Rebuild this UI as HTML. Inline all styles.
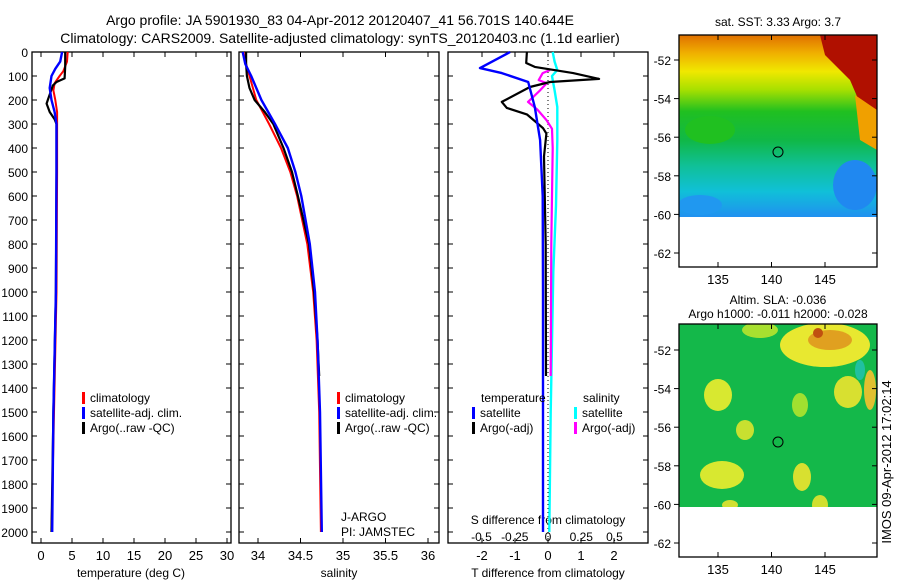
<!DOCTYPE html>
<html><head><meta charset="utf-8"><style>
html,body{margin:0;padding:0;background:#fff}
svg{display:block;font-family:"Liberation Sans",sans-serif}
</style></head><body>
<svg id="fig" width="900" height="580" viewBox="0 0 900 580">
<defs>
<linearGradient id="sstGrad" x1="0" y1="0" x2="0" y2="1">
<stop offset="0" stop-color="#e07000"/><stop offset="0.1" stop-color="#f0b000"/>
<stop offset="0.2" stop-color="#f0e800"/><stop offset="0.3" stop-color="#a8e000"/>
<stop offset="0.42" stop-color="#20c020"/><stop offset="0.58" stop-color="#10b848"/>
<stop offset="0.72" stop-color="#10c098"/><stop offset="0.86" stop-color="#10c0d8"/>
<stop offset="1" stop-color="#2090f0"/>
</linearGradient>
<clipPath id="clip1"><rect x="679" y="35" width="198" height="182"/></clipPath>
<clipPath id="clip2"><rect x="679" y="324" width="198" height="183"/></clipPath>
</defs>
<g font-size="14" text-anchor="middle">
<text x="340" y="25">Argo profile: JA 5901930_83 04-Apr-2012 20120407_41 56.701S 140.644E</text>
<text x="340" y="43">Climatology: CARS2009. Satellite-adjusted climatology: synTS_20120403.nc (1.1d earlier)</text>
</g>
<g id="panels"></g>
<g id="maps"></g>
<text transform="translate(891,462) rotate(-90)" font-size="13" text-anchor="middle">IMOS 09-Apr-2012 17:02:14</text>
</svg>
<script>
// ---- data ----
const depthTicks = [0,100,200,300,400,500,600,700,800,900,1000,1100,1200,1300,1400,1500,1600,1700,1800,1900,2000];
const tempTicks = [0,5,10,15,20,25,30];
const salTicks = [34,34.5,35,35.5,36];
const tdiffTicks = [-2,-1,0,1,2];
const sdiffTicks = [-0.5,-0.25,0,0.25,0.5];
const sdiffLabels = ["-0.5","-0.25","0","0.25","0.5"];
const latTicks = [-52,-54,-56,-58,-60,-62];
const lonTicks = [135,140,145];

const tClimDepth = [0,40,80,100,130,160,200,250,300,500,1000,1500,2000];
const tClimVal   = [4.3,4.2,3.6,3.0,2.2,2.0,2.3,2.6,2.6,2.6,2.5,2.1,1.7];
const tSatDepth = [0,40,70,100,150,200,250,300,500,1000,1500,2000];
const tSatVal   = [3.4,3.1,2.3,1.7,1.4,1.7,2.2,2.5,2.5,2.4,2.0,1.8];
const tArgoDepth = [0,60,110,125,140,170,200,215,250,280,300,500,1000,1500,2000];
const tArgoVal   = [3.9,3.9,3.8,2.5,1.9,1.5,1.1,0.9,1.4,2.2,2.5,2.5,2.4,2.0,1.7];

const sClimDepth = [0,50,100,150,200,300,400,500,600,800,1000,1200,1500,2000];
const sClimVal   = [33.85,33.86,33.9,33.94,33.98,34.13,34.27,34.38,34.46,34.58,34.65,34.69,34.72,34.74];
const sSatDepth = [0,50,100,150,200,300,400,500,600,800,1000,1200,1500,2000];
const sSatVal   = [33.82,33.85,33.92,33.98,34.04,34.2,34.35,34.44,34.51,34.61,34.67,34.7,34.73,34.75];
const sArgoDepth = [0,50,100,150,200,250,300,400,500,600,800,1000,1200,1350];
const sArgoVal   = [33.86,33.86,33.87,33.9,33.96,34.08,34.18,34.3,34.4,34.47,34.6,34.66,34.7,34.72];

const dTsatDepth = [0,67,88,125,229,367,600,1000,1500,2000];
const dTsatVal   = [-1.15,-2.06,-1.4,-0.6,-0.4,-0.24,-0.16,-0.15,-0.15,-0.15];
const dTargoDepth = [0,46,62,88,112,125,146,208,233,260,317,340,435,800,1350];
const dTargoVal   = [-0.64,-0.66,-0.4,0.76,1.55,0.06,-0.55,-1.4,-1.25,-0.64,-0.15,-0.05,-0.12,-0.07,-0.06];
const dSsatDepth = [0,40,75,100,160,229,367,640,917,1500,2000];
const dSsatVal   = [0.035,0.05,0.07,0.03,0.05,0.07,0.07,0.06,0.04,0.02,0.01];
const dSargoDepth = [75,88,117,130,160,208,240,285,320,400,800,1350];
const dSargoVal   = [0.015,-0.04,-0.07,-0.01,-0.06,-0.15,-0.08,-0.01,0.03,0.035,0.025,0.02];

// ---- scales ----
const NS='http://www.w3.org/2000/svg';
const TOP=52, BOT=543;
const yD = d => TOP + d*0.24;
const xT = t => 41 + t*6.2;
const xS = s => 258 + (s-34)*85;
const xDT = t => 548 + t*33;
const xDS = s => 548 + s*133;
const panels = document.getElementById('panels');
const maps = document.getElementById('maps');
function mk(tag, attrs, parent){const e=document.createElementNS(NS,tag);for(const k in attrs)e.setAttribute(k,attrs[k]);parent.appendChild(e);return e;}
function txt(x,y,s,anchor,size,parent){const t=mk('text',{x:x,y:y,'text-anchor':anchor,'font-size':size},parent);t.textContent=s;return t;}
function line(xs,ds,xf,color,w,name,parent){
  const pts = ds.map((d,i)=>xf(xs[i]).toFixed(1)+','+yD(d).toFixed(1)).join(' ');
  const p = mk('polyline',{points:pts,fill:'none',stroke:color,'stroke-width':w,'stroke-linejoin':'round'},parent);
  
  
}
function box(x0,x1,name){
  const g = mk('g',{},panels);
  
  
  mk('rect',{x:x0,y:TOP,width:x1-x0,height:BOT-TOP,fill:'none',stroke:'#000','stroke-width':1.3},g);
  depthTicks.forEach(d=>{mk('line',{x1:x0,x2:x0+5,y1:yD(d),y2:yD(d),stroke:'#000'},g);mk('line',{x1:x1,x2:x1-5,y1:yD(d),y2:yD(d),stroke:'#000'},g);});
  return g;
}
function xticks(g,ticks,xf,labels,ly){
  ticks.forEach((t,i)=>{const x=xf(t);mk('line',{x1:x,x2:x,y1:TOP,y2:TOP+5,stroke:'#000'},g);mk('line',{x1:x,x2:x,y1:BOT,y2:BOT-5,stroke:'#000'},g);
    if(labels) txt(x,ly,labels[i],'middle',13,g);});
}
function legend(g,x,y,items){
  items.forEach((it,i)=>{mk('rect',{x:x,y:y+i*15-10,width:3,height:12,fill:it[0]},g);txt(x+8,y+i*15,it[1],'start',12,g);});
}
// panel 1
const p1 = box(32,231,'temperature-panel');
depthTicks.forEach(d=>txt(28,yD(d)+5,String(d),'end',12,p1));
xticks(p1,tempTicks,xT,tempTicks.map(String),560);
txt(131,577,'temperature (deg C)','middle',12,p1);
line(tClimVal,tClimDepth,xT,'#f00',2,'temp-climatology-line',p1);
line(tArgoVal,tArgoDepth,xT,'#000',2.2,'temp-argo-line',p1);
line(tSatVal,tSatDepth,xT,'#00f',2.4,'temp-satellite-line',p1);
legend(p1,82,402,[['#f00','climatology'],['#00f','satellite-adj. clim.'],['#000','Argo(..raw -QC)']]);
// panel 2
const p2 = box(239,439,'salinity-panel');
xticks(p2,salTicks,xS,salTicks.map(String),560);
txt(339,577,'salinity','middle',12,p2);
line(sClimVal,sClimDepth,xS,'#f00',2,'sal-climatology-line',p2);
line(sArgoVal,sArgoDepth,xS,'#000',2.2,'sal-argo-line',p2);
line(sSatVal,sSatDepth,xS,'#00f',2.4,'sal-satellite-line',p2);
legend(p2,337,402,[['#f00','climatology'],['#00f','satellite-adj. clim.'],['#000','Argo(..raw -QC)']]);
txt(341,521,'J-ARGO','start',12,p2);
txt(341,536,'PI: JAMSTEC','start',12,p2);
// panel 3
const p3 = box(448,648,'difference-panel');
mk('line',{x1:548,x2:548,y1:TOP,y2:BOT,stroke:'#000','stroke-dasharray':'1,3'},p3);
xticks(p3,tdiffTicks,xDT,tdiffTicks.map(String),560);
sdiffTicks.forEach((t,i)=>txt(xDS(t),541,sdiffLabels[i],'middle',12,p3));
txt(548,524,'S difference from climatology','middle',12,p3);
txt(548,577,'T difference from climatology','middle',12,p3);
line(dSsatVal,dSsatDepth,xDS,'#0ff',2.4,'sal-diff-satellite-line',p3);
line(dSargoVal,dSargoDepth,xDS,'#f0f',2.2,'sal-diff-argo-line',p3);
line(dTargoVal,dTargoDepth,xDT,'#000',2.2,'temp-diff-argo-line',p3);
line(dTsatVal,dTsatDepth,xDT,'#00f',2.4,'temp-diff-satellite-line',p3);
txt(481,402,'temperature','start',12,p3);
legend(p3,472,417,[['#00f','satellite'],['#000','Argo(-adj)']]);
txt(583,402,'salinity','start',12,p3);
legend(p3,574,417,[['#0ff','satellite'],['#f0f','Argo(-adj)']]);

// ---- maps ----
const latY1 = lat => 60 + (-52-lat)*19.3;
const lonX = lon => 718 + (lon-135)*10.7;
function mapFrame(g,y0,yLat,y1){
  mk('rect',{x:679,y:y0,width:198,height:y1-y0,fill:'none',stroke:'#000','stroke-width':1.3},g);
  latTicks.forEach(l=>{const y=yLat(l);mk('line',{x1:674,x2:679,y1:y,y2:y,stroke:'#000'},g);mk('line',{x1:877,x2:872,y1:y,y2:y,stroke:'#000'},g);txt(671,y+5,String(l),'end',12,g);});
  lonTicks.forEach(l=>{const x=lonX(l);mk('line',{x1:x,x2:x,y1:y0,y2:y0+5,stroke:'#000'},g);mk('line',{x1:x,x2:x,y1:y1,y2:y1-5,stroke:'#000'},g);txt(x,y1+17,String(l),'middle',13,g);});
}
const m1 = mk('g',{},maps);


const c1 = mk('g',{'clip-path':'url(#clip1)'},m1);
mk('rect',{x:679,y:35,width:198,height:182,fill:'url(#sstGrad)'},c1);
mk('polygon',{points:'820,35 877,35 877,110 862,108 850,80 825,55',fill:'#b01000'},c1);
mk('polygon',{points:'855,95 877,110 877,150 860,140',fill:'#f0a000'},c1);
mk('ellipse',{cx:855,cy:185,rx:22,ry:25,fill:'#2088f0'},c1);
mk('ellipse',{cx:700,cy:205,rx:22,ry:10,fill:'#2098f0'},c1);
mk('ellipse',{cx:710,cy:130,rx:25,ry:14,fill:'#20c020'},c1);
mk('circle',{cx:778,cy:152,r:5,fill:'none',stroke:'#000'},m1);
mapFrame(m1,35,latY1,267);
txt(778,26,'sat. SST: 3.33 Argo: 3.7','middle',12,m1);

const latY2 = lat => 350 + (-52-lat)*19.3;
const m2 = mk('g',{},maps);


const c2 = mk('g',{'clip-path':'url(#clip2)'},m2);
mk('rect',{x:679,y:324,width:198,height:183,fill:'#14b84a'},c2);
[[825,345,45,22,'#e8e830'],[830,340,22,10,'#e0a020'],[818,333,5,5,'#c05010'],[760,330,18,8,'#a8e030'],
 [718,395,14,16,'#d8e830'],[745,430,9,10,'#c8e030'],[848,392,14,16,'#d8e030'],[800,405,8,12,'#a0e030'],
 [722,475,22,14,'#d8e830'],[802,477,9,14,'#d8e030'],[870,390,6,20,'#e0c030'],[820,505,8,10,'#d0e030'],[730,505,8,5,'#d0e030']]
 .forEach(b=>{mk('ellipse',{cx:b[0],cy:b[1],rx:b[2],ry:b[3],fill:b[4]},c2);});
mk('ellipse',{cx:860,cy:370,rx:5,ry:10,fill:'#20c0a0'},c2);
mk('circle',{cx:778,cy:442,r:5,fill:'none',stroke:'#000'},m2);
mapFrame(m2,324,latY2,557);
txt(778,304,'Altim. SLA: -0.036','middle',12,m2);
txt(778,318,'Argo h1000: -0.011 h2000: -0.028','middle',12,m2);
</script>
</body></html>
